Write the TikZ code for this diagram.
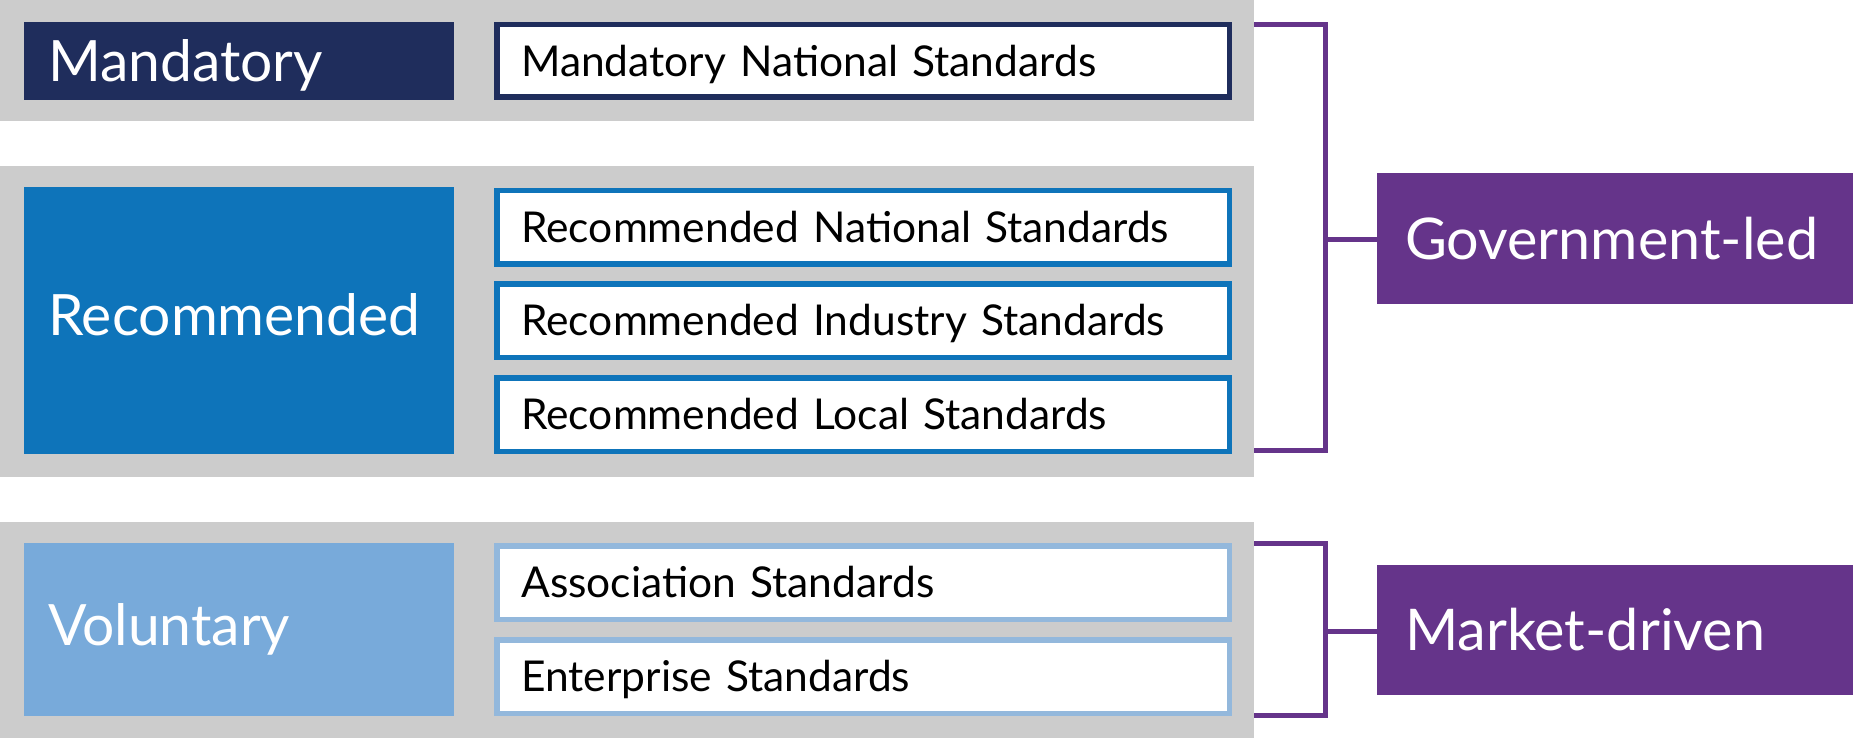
\documentclass[tikz,border=0pt]{standalone}
\usepackage{fontspec}
\setmainfont{Lato}
\definecolor{bandgray}{HTML}{CCCCCC}
\definecolor{navy}{HTML}{1F2D5C}
\definecolor{midblue}{HTML}{0E74BA}
\definecolor{lightblue}{HTML}{78AADA}
\definecolor{lightborder}{HTML}{93B8DC}
\definecolor{purp}{HTML}{65348A}
\begin{document}
\begin{tikzpicture}[x=1pt,y=-1pt,
  band/.style={fill=bandgray, draw=none, inner sep=0pt, outer sep=0pt, anchor=north west, minimum width=1254pt},
  catbox/.style={anchor=north west, minimum width=430pt, inner xsep=24pt, inner ysep=0pt, outer sep=0pt,
    text width=382pt, align=left, text=white, font=\fontsize{57}{64}\selectfont, text height=40.8pt, text depth=0pt},
  stdbox/.style={anchor=north west, draw=#1, line width=5.5pt, fill=white, minimum width=732.5pt, minimum height=73.5pt,
    inner xsep=24.5pt, inner ysep=0pt, outer sep=0pt, text width=683.5pt, align=left, text=black,
    font=\fontsize{42.5}{50}\selectfont, text height=30.5pt, text depth=0pt},
  groupbox/.style={anchor=north west, fill=purp, minimum width=476pt, inner xsep=28pt, inner ysep=0pt, outer sep=0pt,
    text width=420pt, align=left, text=white, font=\fontsize{57.5}{64}\selectfont, text height=41pt, text depth=0pt},
  bracket/.style={draw=purp, line width=5pt}
]
\useasboundingbox (0,0) rectangle (1853,738);
\fill[white] (0,0) rectangle (1853,738);

% gray bands
\node[band, minimum height=121pt] (band1) at (0,0) {};
\node[band, minimum height=311pt] (band2) at (0,166) {};
\node[band, minimum height=216pt] (band3) at (0,522) {};

% category boxes
\node[catbox, fill=navy, minimum height=78pt] (mand) at (24,22) {Mandatory};
\node[catbox, fill=midblue, minimum height=267pt] (rec) at (24,187) {\raisebox{5pt}{Recommended}};
\node[catbox, fill=lightblue, minimum height=173pt] (vol) at (24,543) {\raisebox{4pt}{Voluntary}};

% standard boxes
\node[stdbox=navy, minimum height=72.5pt] (mns) at (496.75,24.75) {Mandatory National Standards};
\node[stdbox=midblue] (rns) at (496.75,190.75) {Recommended National Standards};
\node[stdbox=midblue] (ris) at (496.75,283.75) {Recommended Industry Standards};
\node[stdbox=midblue] (rls) at (496.75,377.75) {Recommended Local Standards};
\node[stdbox=lightborder] (ass) at (496.75,545.75) {Association Standards};
\node[stdbox=lightborder] (ent) at (496.75,639.75) {Enterprise Standards};

% group boxes
\node[groupbox, minimum height=131pt] (gov) at (1377,173) {Government-led};
\node[groupbox, minimum height=130pt] (mkt) at (1377,565) {Market-driven};

% brackets
\coordinate (gtop) at (band1.east |- 0,24.5);
\coordinate (gbot) at (band2.east |- 0,450.5);
\coordinate (gmid) at (1325.5,239.5);
\draw[bracket] (gtop) -- (1325.5,24.5) -- (1325.5,450.5) -- (gbot);
\draw[bracket] (gmid) -- (gmid -| gov.west);

\coordinate (mtop) at (band3.east |- 0,543.5);
\coordinate (mbot) at (band3.east |- 0,715.5);
\coordinate (mmid) at (1325.5,631);
\draw[bracket] (mtop) -- (1325.5,543.5) -- (1325.5,715.5) -- (mbot);
\draw[bracket] (mmid) -- (mmid -| mkt.west);
\end{tikzpicture}
\end{document}
